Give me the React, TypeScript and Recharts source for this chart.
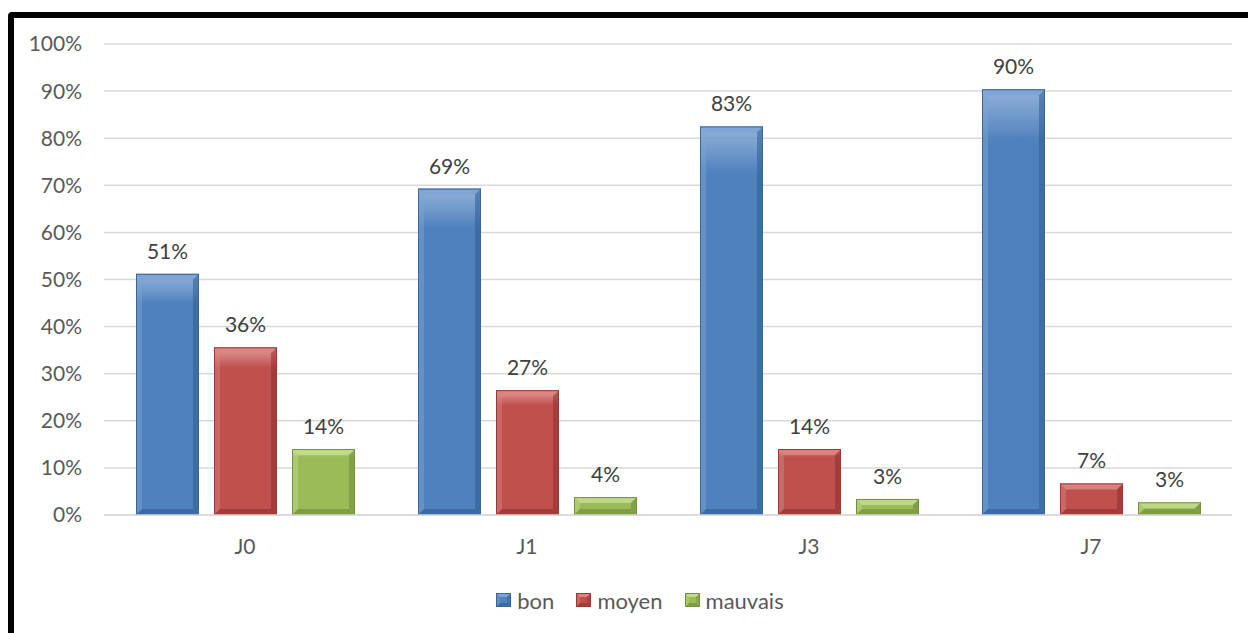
import { BarChart, Bar, XAxis, YAxis, CartesianGrid, Legend, LabelList } from "recharts";

const categories = ["J0", "J1", "J3", "J7"];
const bon = [51.2, 69.3, 82.5, 90.4];
const moyen = [35.6, 26.5, 14.0, 6.7];
const mauvais = [14.0, 3.8, 3.4, 2.7];
const yTicks = [0, 10, 20, 30, 40, 50, 60, 70, 80, 90, 100];

const seriesInfo = [
  { key: "bon", name: "bon", base: "#4F81BD", light: "#7EA3D3", dark: "#2E5C93", edge: "#3A6699" },
  { key: "moyen", name: "moyen", base: "#C0504D", light: "#D98683", dark: "#8E2F2D", edge: "#9A3835" },
  { key: "mauvais", name: "mauvais", base: "#9BBB59", light: "#C3DB8C", dark: "#6E8B37", edge: "#748F3E" },
];

const data = categories.map((c, i) => ({
  cat: c,
  bon: bon[i],
  moyen: moyen[i],
  mauvais: mauvais[i],
}));

const FONT = "Lato, 'Open Sans', sans-serif";

function bevelShape(s: (typeof seriesInfo)[number]) {
  return (props: any) => {
    const { x, y, width, height } = props;
    if (!height || height <= 0) return null;
    const b = Math.min(6, height / 2, width / 2);
    const x2 = x + width;
    const y2 = y + height;
    return (
      <g>
        <rect x={x} y={y} width={width} height={height} fill={`url(#grad-${s.key})`} />
        <polygon points={`${x},${y} ${x2},${y} ${x2 - b},${y + b} ${x + b},${y + b}`} fill={s.light} opacity={0.9} />
        <polygon points={`${x},${y} ${x + b},${y + b} ${x + b},${y2 - b} ${x},${y2}`} fill={s.light} opacity={0.45} />
        <polygon points={`${x2},${y} ${x2},${y2} ${x2 - b},${y2 - b} ${x2 - b},${y + b}`} fill={s.dark} opacity={0.55} />
        <polygon points={`${x},${y2} ${x2},${y2} ${x2 - b},${y2 - b} ${x + b},${y2 - b}`} fill={s.dark} opacity={0.6} />
        <rect x={x + 0.5} y={y + 0.5} width={width - 1} height={height - 1} fill="none" stroke={s.edge} strokeWidth={1} />
      </g>
    );
  };
}

function LegendIcon({ s }: { s: (typeof seriesInfo)[number] }) {
  return (
    <svg width={15} height={14} style={{ marginRight: 6 }}>
      <rect x={0} y={0} width={15} height={14} fill={s.base} />
      <polygon points="0,0 15,0 11,4 4,4" fill={s.light} />
      <polygon points="0,14 15,14 11,10 4,10" fill={s.dark} opacity={0.6} />
      <polygon points="15,0 15,14 11,10 11,4" fill={s.dark} opacity={0.4} />
      <polygon points="0,0 4,4 4,10 0,14" fill={s.light} opacity={0.4} />
      <rect x={0.5} y={0.5} width={14} height={13} fill="none" stroke={s.edge} />
    </svg>
  );
}

function renderLegend() {
  return (
    <div
      style={{
        height: 24,
        display: "flex",
        justifyContent: "center",
        alignItems: "center",
        gap: 22,
        fontFamily: FONT,
        fontSize: 22,
        color: "#595959",
        paddingLeft: 48,
      }}
    >
      {seriesInfo.map((s) => (
        <div key={s.key} style={{ display: "flex", alignItems: "center" }}>
          <LegendIcon s={s} />
          <span>{s.name}</span>
        </div>
      ))}
    </div>
  );
}

export default function App() {
  return (
    <div style={{ position: "absolute", left: 0, top: 0, width: 1248, height: 633, overflow: "hidden", background: "#fff" }}>
      <div
        style={{
          position: "absolute",
          left: 8,
          top: 12,
          width: 1300,
          height: 700,
          border: "6px solid #000",
          borderRadius: 4,
          boxSizing: "border-box",
        }}
      />
      <div style={{ position: "absolute", left: 0, top: 0 }}>
        <BarChart
          width={1248}
          height={633}
          data={data}
          margin={{ top: 44, right: 16, left: 0, bottom: 21 }}
          barCategoryGap={32}
          barGap={15}
        >
          <defs>
            {seriesInfo.map((s) => (
              <linearGradient key={s.key} id={`grad-${s.key}`} x1="0" y1="0" x2="0" y2="1">
                <stop offset="0%" stopColor={s.light} stopOpacity={0.85} />
                <stop offset="12%" stopColor={s.base} />
                <stop offset="100%" stopColor={s.base} />
              </linearGradient>
            ))}
          </defs>
          <CartesianGrid vertical={false} stroke="#D9D9D9" strokeWidth={1.5} />
          <XAxis
            dataKey="cat"
            height={73}
            axisLine={{ stroke: "#D9D9D9", strokeWidth: 1.5 }}
            tickLine={false}
            tickMargin={18}
            tick={{ fill: "#595959", fontSize: 21, fontFamily: FONT }}
          />
          <YAxis
            width={104}
            domain={[0, 100]}
            ticks={yTicks}
            interval={0}
            axisLine={false}
            tickLine={false}
            tickMargin={16}
            tickFormatter={(v: number) => `${v}%`}
            tick={{ fill: "#595959", fontSize: 21, fontFamily: FONT }}
          />
          <Legend content={renderLegend} verticalAlign="bottom" />
          {seriesInfo.map((s) => (
            <Bar key={s.key} dataKey={s.key} name={s.name} fill={s.base} shape={bevelShape(s)} isAnimationActive={false}>
              <LabelList
                dataKey={s.key}
                position="top"
                offset={15}
                formatter={(v: any) => `${Math.round(Number(v))}%`}
                style={{ fill: "#404040", fontSize: 21, fontFamily: FONT }}
              />
            </Bar>
          ))}
        </BarChart>
      </div>
    </div>
  );
}
